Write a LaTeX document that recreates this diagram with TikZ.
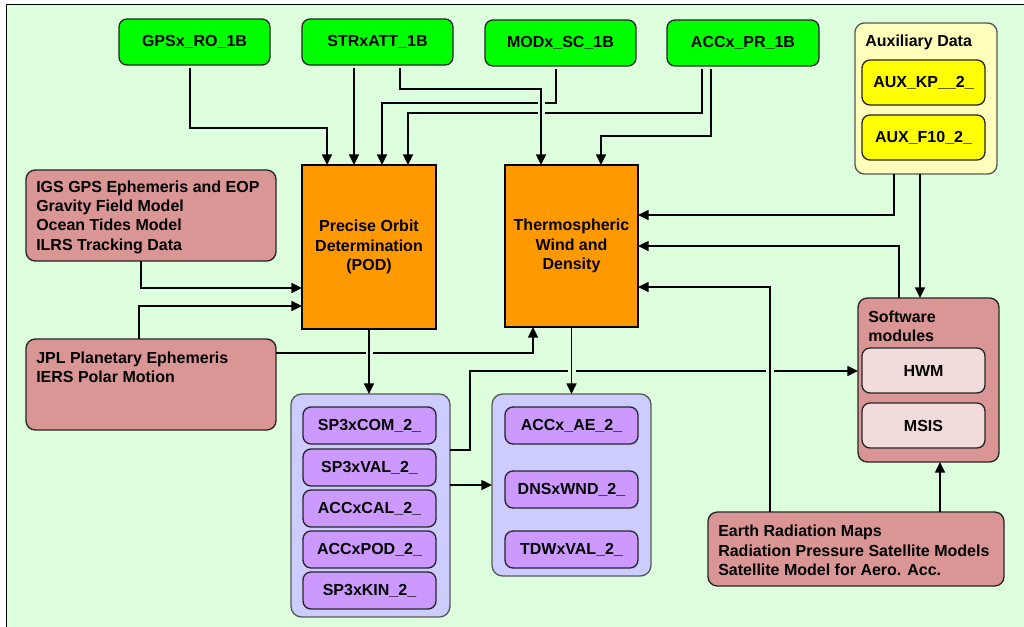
\documentclass[tikz,border=0pt]{standalone}
\usepackage{fontspec}
\setmainfont{Liberation Sans}
\usetikzlibrary{arrows.meta,calc}
\definecolor{bgc}{RGB}{221,255,221}
\definecolor{grn}{RGB}{0,255,0}
\definecolor{org}{RGB}{255,153,0}
\definecolor{pnk}{RGB}{217,150,148}
\definecolor{lyel}{RGB}{255,255,187}
\definecolor{yel}{RGB}{255,255,0}
\definecolor{lav}{RGB}{204,204,255}
\definecolor{pur}{RGB}{204,153,255}
\definecolor{lpnk}{RGB}{242,220,219}
% box node from pixel corners: style, name, x1, y1, x2, y2, text
\newcommand\bnode[7]{\node[#1, minimum width={(#5-#3)*0.75pt}, minimum height={(#6-#4)*0.75pt}] (#2) at ({(#3+#5)/2},{(#4+#6)/2}) {#7};}
\begin{document}
\begin{tikzpicture}[x=0.75pt,y=-0.75pt,
  font=\fontsize{12}{14.5}\selectfont\bfseries,
  gbox/.style={draw=black!85, line width=1pt, inner sep=0pt, outer sep=0pt, rounded corners=6pt, align=center},
  greenbox/.style={gbox, fill=grn},
  orgbox/.style={draw=black, line width=1.4pt, inner sep=0pt, outer sep=0pt, fill=org, align=center},
  pinkbox/.style={gbox, fill=pnk, rounded corners=7pt},
  auxbox/.style={gbox, fill=lyel, draw=black!65, rounded corners=7pt},
  yelbox/.style={gbox, fill=yel},
  lavbox/.style={gbox, fill=lav, draw=black!65, rounded corners=8pt},
  purbox/.style={gbox, fill=pur, rounded corners=6pt},
  lpnkbox/.style={gbox, fill=lpnk, rounded corners=6pt},
  txt/.style={inner sep=0pt, align=left},
  conn/.style={line width=1.1pt, -{Triangle[length=8pt,width=7.5pt]}},
  hop/.style={fill=bgc}
]
\useasboundingbox (0,0) rectangle (1024,626);
\clip (0,0) rectangle (1024,626);
\fill[white] (0,0) rectangle (1024,626);
\draw[fill=bgc, line width=1.2pt] (6.5,4.5) rectangle (1040,640);

% green source boxes
\bnode{greenbox}{gps}{119}{19}{270}{65}{GPSx\_RO\_1B}
\bnode{greenbox}{str}{302}{19}{453}{65}{STRxATT\_1B}
\bnode{greenbox}{mod}{485}{20}{636}{66}{MODx\_SC\_1B}
\bnode{greenbox}{acc}{667}{20}{819}{66}{ACCx\_PR\_1B}

% auxiliary data
\bnode{auxbox}{aux}{855}{23}{997}{174}{}
\node[txt, anchor=west] (auxt) at ($(aux.north west)+(10,19)$) {Auxiliary Data};
\bnode{yelbox}{auxkp}{862}{60}{985}{105}{AUX\_KP\_\_2\_}
\bnode{yelbox}{auxf}{862}{115}{985}{160}{AUX\_F10\_2\_}

% processing boxes
\bnode{orgbox}{pod}{302}{165}{436}{329}{Precise Orbit\\Determination\\(POD)}
\bnode{orgbox}{thermo}{505}{165}{638}{327}{Thermospheric\\Wind and\\Density}

% external inputs
\bnode{pinkbox}{igs}{26}{170}{276}{261}{}
\node[txt, anchor=west] (igst) at ($(igs.west)+(10,1.5)$) {IGS GPS Ephemeris and EOP\\Gravity Field Model\\Ocean Tides Model\\ILRS Tracking Data};
\bnode{pinkbox}{jpl}{26}{339}{276}{430}{}
\node[txt, anchor=west] (jplt) at ($(jpl.north west)+(10,28.5)$) {JPL Planetary Ephemeris\\IERS Polar Motion};

% product containers
\bnode{lavbox}{sp3c}{291}{394}{450}{617}{}
\bnode{purbox}{sp3com}{303}{407}{436}{444}{SP3xCOM\_2\_}
\bnode{purbox}{sp3val}{303}{449}{436}{486}{SP3xVAL\_2\_}
\bnode{purbox}{acccal}{303}{490}{436}{527}{ACCxCAL\_2\_}
\bnode{purbox}{accpod}{303}{531}{436}{568}{ACCxPOD\_2\_}
\bnode{purbox}{sp3kin}{303}{572}{436}{609}{SP3xKIN\_2\_}

\bnode{lavbox}{accc}{492}{394}{651}{576}{}
\bnode{purbox}{accae}{505}{407}{638}{444}{ACCx\_AE\_2\_}
\bnode{purbox}{dns}{505}{471}{638}{508}{DNSxWND\_2\_}
\bnode{purbox}{tdw}{505}{531}{638}{568}{TDWxVAL\_2\_}

% software modules
\bnode{pinkbox}{soft}{858}{298}{999}{462}{}
\node[txt, anchor=west] (softt) at ($(soft.north west)+(10,28.5)$) {Software\\modules};
\bnode{lpnkbox}{hwm}{862}{348}{985}{393}{HWM}
\bnode{lpnkbox}{msis}{862}{403}{985}{448}{MSIS}

% earth radiation
\bnode{pinkbox}{earth}{708}{512}{1004}{586}{}
\node[txt, anchor=west] (eartht) at ($(earth.west)+(10,1.5)$) {Earth Radiation Maps\\Radiation Pressure Satellite Models\\Satellite Model for Aero. Acc.};

% connectors from level 1B data
\draw[conn] ($(gps.south)+(-4.5,3)$) -- ++(0,60) -| ($(pod.north west)+(25,0)$);
\draw[conn] ($(str.south)+(-23.5,3)$) -- ($(pod.north west)+(52,0)$);
\draw[conn] ($(mod.south)+(-4.5,3)$) -- ++(0,34) -| ($(pod.north west)+(80,0)$);
\draw[conn] ($(acc.south)+(-41,3)$) -- ++(0,44) -| ($(pod.north west)+(106,0)$);
\fill[hop] (537.5,99) rectangle (544.5,105);
\fill[hop] (537.5,109) rectangle (544.5,115);
\draw[conn] ($(str.south)+(22.5,3)$) -- ++(0,21) -| ($(thermo.north west)+(36,0)$);
\draw[conn] ($(acc.south)+(-32,3)$) -- ++(0,67) -| ($(thermo.north west)+(96,0)$);

% external inputs to POD / thermo
\draw[conn] ($(igs.south west)+(115,0)$) |- ($(pod.north west)+(0,123)$);
\draw[conn] ($(jpl.north west)+(113,0)$) |- ($(pod.north west)+(0,141)$);
\draw[conn] ($(jpl.north east)+(0,14)$) -| ($(thermo.south west)+(28,0)$);
\fill[hop] (365.5,350) rectangle (372.5,356);

% products to software modules
\draw[conn] ($(sp3c.north east)+(0,56)$) -- ++(20,0) |- ($(soft.north west)+(0,73)$);
\fill[hop] (568,368) rectangle (576,374);
\fill[hop] (766,368) rectangle (774,374);
\draw[conn] (pod.south) -- (pod.south |- sp3c.north);
\draw[conn] (thermo.south) -- (thermo.south |- accc.north);
\draw[conn] ($(sp3c.north east)+(0,91)$) -- ($(accc.north west)+(0,91)$);

% auxiliary and models
\draw[conn] ($(aux.south)+(-32,0)$) |- ($(thermo.north east)+(0,50)$);
\draw[conn] ($(aux.south)+(-6,0)$) -- ($(soft.north west)+(62,0)$);
\draw[conn] ($(soft.north west)+(41,0)$) |- ($(thermo.north east)+(0,81)$);
\draw[conn] ($(earth.north west)+(62,0)$) |- ($(thermo.north east)+(0,122)$);
\draw[conn] ($(earth.north west)+(232,0)$) -- ($(soft.south west)+(82,0)$);
\end{tikzpicture}
\end{document}
